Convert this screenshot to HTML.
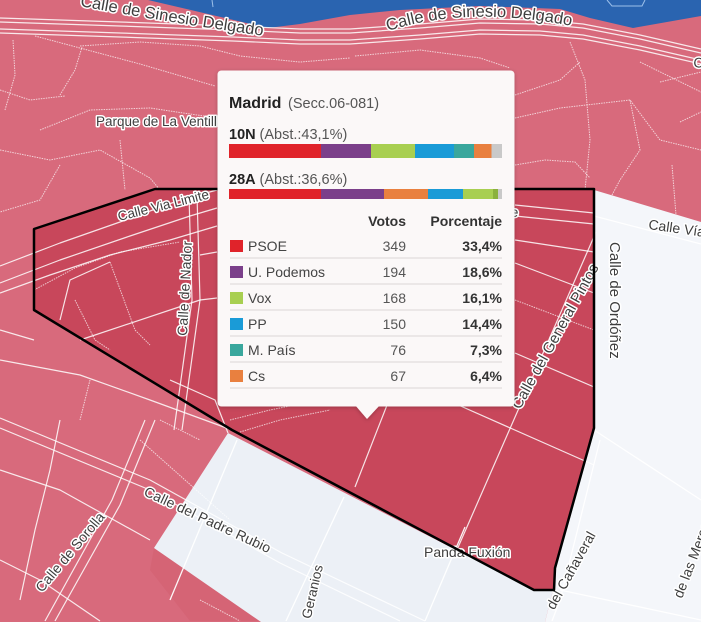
<!DOCTYPE html>
<html><head><meta charset="utf-8">
<style>
html,body{margin:0;padding:0;width:701px;height:622px;overflow:hidden;background:#d86a7c}
#wrap{position:relative;width:701px;height:622px;overflow:hidden}
svg{display:block;overflow:hidden}
text{font-family:"Liberation Sans",Arial,sans-serif}
.lbl{fill:#3e3e3e;stroke:#fff;stroke-width:3;paint-order:stroke;stroke-linejoin:round;font-size:14px}
.rd{fill:none;stroke:#fff;stroke-width:1.2;stroke-linejoin:round;opacity:.85}
.fp{fill:none;stroke:#fff;stroke-width:1;stroke-dasharray:1.5 1;opacity:.7}
.lt{fill:none;stroke:#fff;stroke-width:1.3;opacity:.95}
</style></head><body>
<div id="wrap">
<svg width="701" height="622" viewBox="0 0 701 622" xmlns="http://www.w3.org/2000/svg">
<defs>
<filter id="sh" x="-10%" y="-10%" width="120%" height="120%"><feDropShadow dx="0" dy="1" stdDeviation="2" flood-color="#000" flood-opacity="0.25"/></filter>
<path id="p1" d="M80,6 Q165,22 272,37"/>
<path id="p2" d="M388,31 Q470,4 582,28"/>
<clipPath id="cl"><rect width="701" height="622"/></clipPath>
</defs>
<g clip-path="url(#cl)">
<rect width="701" height="622" fill="#d86a7c"/>
<!-- blue -->
<path d="M148,0 L701,0 L701,16 L633,28 L590,18 L560,9 L480,6 L400,10 L350,15 L300,24 L268,28 Z" fill="#2a64b0"/>
<path d="M607,0 L612,6 L642,6 L645,0" stroke="#9cc0ea" stroke-width="1" fill="none"/>
<line x1="212" y1="0" x2="213" y2="7" stroke="#9cc0ea" stroke-width="1"/>

<!-- darker pink wedge (subtle) -->
<polygon points="154,548 261,621 190,621 150,570" fill="#cc5568" opacity=".3"/>

<!-- selected polygon fill -->
<polygon points="34,229 155,189 594,189 594,428 555,568 554,590 534,590 232,430 34,310" fill="#c8475b"/>

<!-- light regions -->
<polygon points="154,548 228,433 534,590 553,590 545,622 261,622" fill="#ecf0f6"/>
<polygon points="594,190 701,222 701,622 545,622 553,590 555,568 594,428" fill="#f4f6fa"/>

<!-- Sinesio Delgado band -->
<polyline class="rd" points="0,18 120,22 233,26 300,29 350,29 420,24 480,19 540,20 583,24 640,35 701,49"/>
<polyline class="rd" points="0,22 120,26 233,30 300,33 350,33 420,28 480,23 540,24 583,28 640,39 701,53"/>
<polyline class="rd" points="0,29 120,33 233,37 300,40 350,40 420,35 480,30 540,31 583,35 640,46 701,60"/>
<polyline class="rd" points="0,33 120,37 233,41 300,44 350,44 420,39 480,34 540,35 583,39 640,50 701,64"/>

<!-- footpaths upper -->
<polyline class="fp" points="13,40 15,75 5,110"/>
<polyline class="fp" points="35,36 80,48 140,64 215,86"/>
<polyline class="fp" points="80,46 140,42 200,46 240,56 300,62 350,58"/>
<polyline class="fp" points="60,95 75,70 82,47"/>
<polyline class="fp" points="0,90 30,100 65,96"/>
<polyline class="fp" points="40,130 90,110 150,108 217,118"/>
<polyline class="fp" points="0,150 50,160 100,150 150,178 160,190"/>
<polyline class="fp" points="120,140 125,190"/>
<polyline class="fp" points="60,165 40,200 0,212"/>
<polyline class="fp" points="355,56 420,50 480,58 510,68"/>
<polyline class="fp" points="570,42 585,80 590,140 585,190"/>
<polyline class="fp" points="515,95 560,80 580,62"/>
<polyline class="fp" points="515,118 560,108 630,100 660,140 701,150"/>
<polyline class="fp" points="630,100 640,150 620,180 612,195"/>
<polyline class="fp" points="515,165 545,160 575,162 590,178"/>
<polyline class="fp" points="640,62 701,92"/>
<polyline class="fp" points="672,165 676,215"/>
<polyline class="fp" points="660,82 701,72"/>
<polyline class="fp" points="680,122 701,112"/>

<!-- Via Limite -->
<polyline class="rd" points="0,266 60,243 120,222 180,200 217,190"/>
<polyline class="rd" points="0,283 60,260 130,236 190,216 217,208"/>
<polyline class="rd" points="0,293 50,275 110,255 170,240 217,226"/>
<polyline class="rd" points="515,205 594,213"/>
<polyline class="rd" points="515,216 594,224"/>
<polyline class="lt" points="594,216 701,244" opacity=".8"/>

<!-- Nador -->
<polyline class="rd" points="189,195 192,300 174,430"/>
<polyline class="rd" points="197,195 200,300 182,430"/>

<!-- inside polygon left -->
<polyline class="fp" points="34,290 75,268 120,252 180,242"/>
<polyline class="rd" points="60,320 70,280 110,262"/>
<polyline class="rd" points="80,340 200,300 217,298"/>
<polyline class="fp" points="75,300 95,340 110,350"/>
<polyline class="rd" points="200,255 217,252"/>
<polyline class="fp" points="110,262 135,330 150,345"/>
<polyline class="fp" points="230,420 270,410 310,402"/>
<polyline class="fp" points="240,432 280,420 330,410"/>

<!-- lower-left roads -->
<polyline class="rd" points="0,330 34,340"/>
<polyline class="rd" points="0,360 80,375 150,400 232,430"/>
<polyline class="rd" points="0,418 150,480 282,553 425,621"/>
<polyline class="rd" points="0,428 150,490 280,563 400,621"/>
<polyline class="rd" points="45,621 112,500 145,420"/>
<polyline class="rd" points="55,621 120,505 155,420"/>
<polyline class="rd" points="0,470 60,490 150,540"/>
<polyline class="rd" points="60,420 50,470 35,530 20,600"/>
<polyline class="fp" points="160,420 200,440"/>
<polyline class="rd" points="0,560 40,580 100,621"/>
<polyline class="fp" points="140,440 230,520"/>
<polyline class="rd" points="170,380 215,400 228,433"/>
<polyline class="fp" points="200,600 240,621"/>
<polyline class="fp" points="90,380 80,420"/>

<!-- light region lines -->
<polyline class="lt" points="344,497 286,621"/>
<polyline class="lt" points="465,527 425,621"/>
<polyline class="lt" points="237,440 170,600"/>
<polyline class="lt" points="600,440 560,600 552,621" opacity=".7"/>
<polyline class="lt" points="594,430 701,500" opacity=".7"/>
<polyline class="lt" points="560,590 701,620" opacity=".7"/>

<!-- inside polygon right -->
<polyline class="rd" points="596,232 456,552"/>
<polyline class="rd" points="515,240 594,252"/>
<polyline class="rd" points="515,263 594,293"/>
<polyline class="rd" points="515,353 594,387"/>
<polyline class="fp" points="515,300 594,330"/>
<polyline class="rd" points="447,400 594,465"/>
<polyline class="rd" points="389,400 355,487"/>

<!-- labels -->
<text class="lbl" style="font-size:16.5px"><textPath href="#p1">Calle de Sinesio Delgado</textPath></text>
<text class="lbl" style="font-size:16.5px"><textPath href="#p2">Calle de Sinesio Delgado</textPath></text>
<text class="lbl" x="96" y="126" style="font-size:13.5px">Parque de La Ventilla</text>
<text class="lbl" transform="translate(119,221) rotate(-14)" style="font-size:13.5px">Calle Via Limite</text>
<text class="lbl" transform="translate(518,217) rotate(5)" text-anchor="end" style="font-size:13.5px">Calle Via Limite</text>
<text class="lbl" transform="translate(187,336) rotate(-87)" textLength="95">Calle de Nador</text>
<text class="lbl" transform="translate(610,242) rotate(90)" style="font-size:15px">Calle de Ordóñez</text>
<text class="lbl" transform="translate(520,410) rotate(-61)" style="font-size:15px" textLength="163">Calle del General Pintos</text>
<text class="lbl" transform="translate(648,229) rotate(8)">Calle Vía</text>
<text class="lbl" transform="translate(143,495) rotate(25)" textLength="138">Calle del Padre Rubio</text>
<text class="lbl" transform="translate(42,593) rotate(-50)">Calle de Sorolla</text>
<text class="lbl" transform="translate(323,566) rotate(-77)" text-anchor="end" style="font-size:13.5px">Geranios</text>
<text class="lbl" x="424" y="557">Panda Fuxión</text>
<text class="lbl" transform="translate(596,535) rotate(-61)" text-anchor="end">del Cañaveral</text>
<text class="lbl" transform="translate(682,599) rotate(-69)">de las Mercedes</text>
<text class="lbl" transform="translate(693,67) rotate(5)">Calle</text>

<!-- outline -->
<polygon points="34,229 155,189 594,189 594,428 555,568 554,590 534,590 232,430 34,310" fill="none" stroke="#000" stroke-width="2.5" stroke-linejoin="round"/>

<!-- tooltip -->
<g filter="url(#sh)">
<rect x="217.5" y="70.5" width="297" height="336" rx="4" fill="#fbf8f8"/>
<polygon points="355,405 380,405 367,419" fill="#fbf8f8"/>
</g>
<text x="229" y="108" font-weight="bold" font-size="16" fill="#222">Madrid</text>
<text x="288" y="108" font-size="14.5" fill="#555">(Secc.06-081)</text>
<text x="229" y="139" font-weight="bold" font-size="14.5" fill="#222">10N</text>
<text x="259.5" y="139" font-size="14.5" fill="#555">(Abst.:43,1%)</text>
<g>
<rect x="229" y="144" width="92" height="14" fill="#e0232a"/>
<rect x="321" y="144" width="50" height="14" fill="#7b3f8a"/>
<rect x="371" y="144" width="44" height="14" fill="#a8cf51"/>
<rect x="415" y="144" width="39" height="14" fill="#1a9bd7"/>
<rect x="454" y="144" width="20" height="14" fill="#3aa79d"/>
<rect x="474" y="144" width="17.5" height="14" fill="#e9803f"/>
<rect x="491.5" y="144" width="10.5" height="14" fill="#c9c9c9"/>
</g>
<text x="229" y="184" font-weight="bold" font-size="14.5" fill="#222">28A</text>
<text x="259.5" y="184" font-size="14.5" fill="#555">(Abst.:36,6%)</text>
<g>
<rect x="229" y="189" width="92" height="10" fill="#e0232a"/>
<rect x="321" y="189" width="63" height="10" fill="#7b3f8a"/>
<rect x="384" y="189" width="44" height="10" fill="#e9803f"/>
<rect x="428" y="189" width="35" height="10" fill="#1a9bd7"/>
<rect x="463" y="189" width="30" height="10" fill="#a8cf51"/>
<rect x="493" y="189" width="5" height="10" fill="#8bb13d"/>
<rect x="498" y="189" width="4" height="10" fill="#c9c9c9"/>
</g>
<text x="406" y="226" text-anchor="end" font-weight="bold" font-size="14" fill="#333">Votos</text>
<text x="502" y="226" text-anchor="end" font-weight="bold" font-size="14" fill="#333">Porcentaje</text>
<g font-size="14">
<rect x="230" y="240" width="13" height="12" fill="#e0232a"/>
<text x="248" y="251" fill="#444">PSOE</text>
<text x="406" y="251" text-anchor="end" fill="#555">349</text>
<text x="502" y="251" text-anchor="end" font-weight="bold" fill="#333">33,4%</text>
<line x1="230" y1="258" x2="502" y2="258" stroke="#e6e1e1" stroke-width="1.5"/>

<rect x="230" y="266" width="13" height="12" fill="#7b3f8a"/>
<text x="248" y="277" fill="#444">U. Podemos</text>
<text x="406" y="277" text-anchor="end" fill="#555">194</text>
<text x="502" y="277" text-anchor="end" font-weight="bold" fill="#333">18,6%</text>
<line x1="230" y1="284" x2="502" y2="284" stroke="#e6e1e1" stroke-width="1.5"/>

<rect x="230" y="292" width="13" height="12" fill="#a8cf51"/>
<text x="248" y="303" fill="#444">Vox</text>
<text x="406" y="303" text-anchor="end" fill="#555">168</text>
<text x="502" y="303" text-anchor="end" font-weight="bold" fill="#333">16,1%</text>
<line x1="230" y1="310" x2="502" y2="310" stroke="#e6e1e1" stroke-width="1.5"/>

<rect x="230" y="318" width="13" height="12" fill="#1a9bd7"/>
<text x="248" y="329" fill="#444">PP</text>
<text x="406" y="329" text-anchor="end" fill="#555">150</text>
<text x="502" y="329" text-anchor="end" font-weight="bold" fill="#333">14,4%</text>
<line x1="230" y1="336" x2="502" y2="336" stroke="#e6e1e1" stroke-width="1.5"/>

<rect x="230" y="344" width="13" height="12" fill="#3aa79d"/>
<text x="248" y="355" fill="#444">M. País</text>
<text x="406" y="355" text-anchor="end" fill="#555">76</text>
<text x="502" y="355" text-anchor="end" font-weight="bold" fill="#333">7,3%</text>
<line x1="230" y1="362" x2="502" y2="362" stroke="#e6e1e1" stroke-width="1.5"/>

<rect x="230" y="370" width="13" height="12" fill="#e9803f"/>
<text x="248" y="381" fill="#444">Cs</text>
<text x="406" y="381" text-anchor="end" fill="#555">67</text>
<text x="502" y="381" text-anchor="end" font-weight="bold" fill="#333">6,4%</text>
<line x1="230" y1="388" x2="502" y2="388" stroke="#e6e1e1" stroke-width="1.5"/>
</g>
</g>
</svg>
</div>
</body></html>
